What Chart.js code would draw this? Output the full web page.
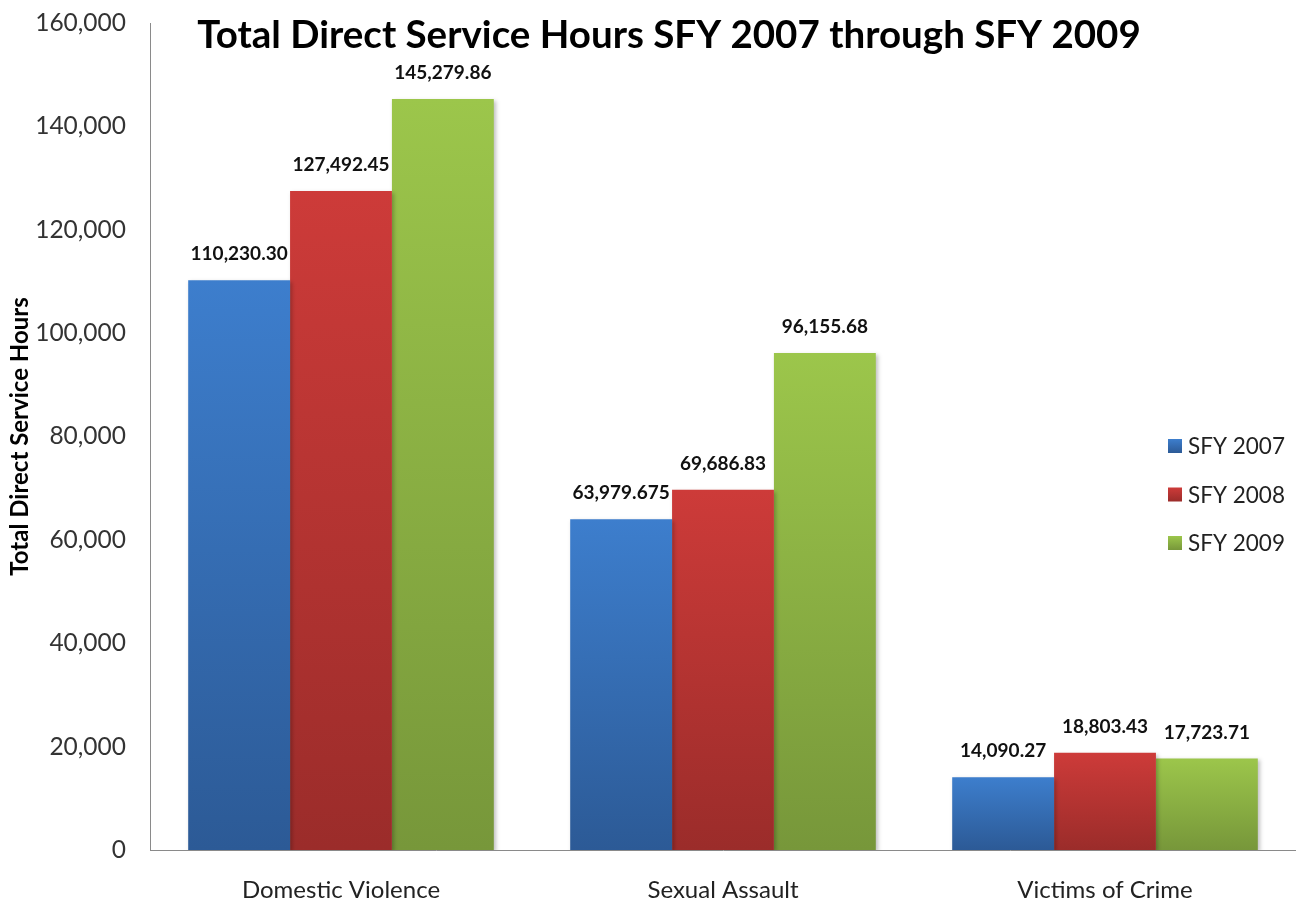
<!DOCTYPE html>
<html>
<head>
<meta charset="utf-8">
<script src="https://cdn.jsdelivr.net/npm/chart.js@4"></script>
<style>
html,body{margin:0;padding:0;background:#fff;}
#wrap{width:1296px;height:903px;position:relative;}
</style>
</head>
<body>
<div id="wrap"><canvas id="chart" width="1296" height="903"></canvas></div>
<script>
const categories = ["Domestic Violence", "Sexual Assault", "Victims of Crime"];
const seriesNames = ["SFY 2007", "SFY 2008", "SFY 2009"];
const sfy2007 = [110230.30, 63979.675, 14090.27];
const sfy2008 = [127492.45, 69686.83, 18803.43];
const sfy2009 = [145279.86, 96155.68, 17723.71];
const yTicks = [0, 20000, 40000, 60000, 80000, 100000, 120000, 140000, 160000];

// top / bottom colour of each series' gradient
const topColors = ["#3d7ecd", "#cd3b39", "#9cc64b"];
const bottomColors = ["#2c5a96", "#9b2c2a", "#77973a"];

const fontFam = "Lato, 'Open Sans', sans-serif";

function barGradient(i) {
  return function(ctx) {
    const chart = ctx.chart;
    const y = chart.scales.y;
    if (!y || ctx.raw === undefined) return topColors[i];
    const top = y.getPixelForValue(ctx.raw);
    const base = y.getPixelForValue(0);
    if (!isFinite(top) || !isFinite(base) || top === base) return topColors[i];
    const g = chart.ctx.createLinearGradient(0, top, 0, base);
    g.addColorStop(0, topColors[i]);
    g.addColorStop(1, bottomColors[i]);
    return g;
  };
}

const labelFmt = v => v.toLocaleString("en-US", {minimumFractionDigits: 2, maximumFractionDigits: 3});

// bar shadows, value labels, title and legend
const extras = {
  id: "extras",
  beforeDatasetsDraw(chart) {
    const c = chart.ctx;
    c.save();
    c.shadowColor = "rgba(0,0,0,0.25)";
    c.shadowBlur = 4;
    c.shadowOffsetX = 2;
    c.shadowOffsetY = 2;
  },
  afterDatasetsDraw(chart) {
    const c = chart.ctx;
    c.restore();
    c.save();
    c.font = "bold 19px " + fontFam;
    c.fillStyle = "#111";
    c.textAlign = "center";
    c.textBaseline = "middle";
    chart.data.datasets.forEach((ds, i) => {
      chart.getDatasetMeta(i).data.forEach((bar, j) => {
        c.fillText(labelFmt(ds.data[j]), bar.x, bar.y - 26);
      });
    });
    c.restore();
  },
  afterDraw(chart) {
    const c = chart.ctx;
    c.save();
    c.font = "bold 38.5px " + fontFam;
    c.fillStyle = "#000";
    c.textAlign = "center";
    c.textBaseline = "middle";
    c.fillText("Total Direct Service Hours SFY 2007 through SFY 2009", 669, 36);

    c.font = "22.5px " + fontFam;
    c.textAlign = "left";
    seriesNames.forEach((name, i) => {
      const y = 446 + i * 48.5;
      const g = c.createLinearGradient(0, y - 7, 0, y + 7);
      g.addColorStop(0, topColors[i]);
      g.addColorStop(1, bottomColors[i]);
      c.fillStyle = g;
      c.fillRect(1168, y - 7, 14, 14);
      c.fillStyle = "#222";
      c.fillText(name, 1188, y + 1);
    });
    c.restore();
  }
};

new Chart(document.getElementById("chart"), {
  type: "bar",
  data: {
    labels: categories,
    datasets: [sfy2007, sfy2008, sfy2009].map((d, i) => ({
      label: seriesNames[i],
      data: d,
      backgroundColor: barGradient(i),
      borderWidth: 0,
      categoryPercentage: 0.8,
      barPercentage: 1.0
    }))
  },
  options: {
    responsive: false,
    animation: false,
    layout: {padding: {top: 23, right: 0, bottom: 0, left: 0}},
    plugins: {
      legend: {display: false},
      title: {display: false},
      tooltip: {enabled: false}
    },
    scales: {
      x: {
        grid: {display: false, drawTicks: false},
        border: {display: true, color: "#8a8a8a", width: 1},
        ticks: {font: {family: fontFam, size: 24}, color: "#222", padding: 26},
        afterFit(s) { s.height = 53; }
      },
      y: {
        min: 0,
        max: 160000,
        afterBuildTicks(s) { s.ticks = yTicks.map(v => ({value: v})); },
        grid: {display: false, drawTicks: false},
        border: {display: true, color: "#8a8a8a", width: 1},
        ticks: {
          font: {family: fontFam, size: 24.5},
          color: "#333",
          padding: 24,
          callback: v => v.toLocaleString("en-US")
        },
        title: {
          display: true,
          text: "Total Direct Service Hours",
          font: {family: fontFam, size: 24, weight: "bold"},
          color: "#000",
          padding: {top: 6, bottom: 0}
        },
        afterFit(s) {
          s.width = 150;
          s.paddingTop = 0;
          s.paddingBottom = 0;
        }
      }
    }
  },
  plugins: [extras]
});
</script>
</body>
</html>
